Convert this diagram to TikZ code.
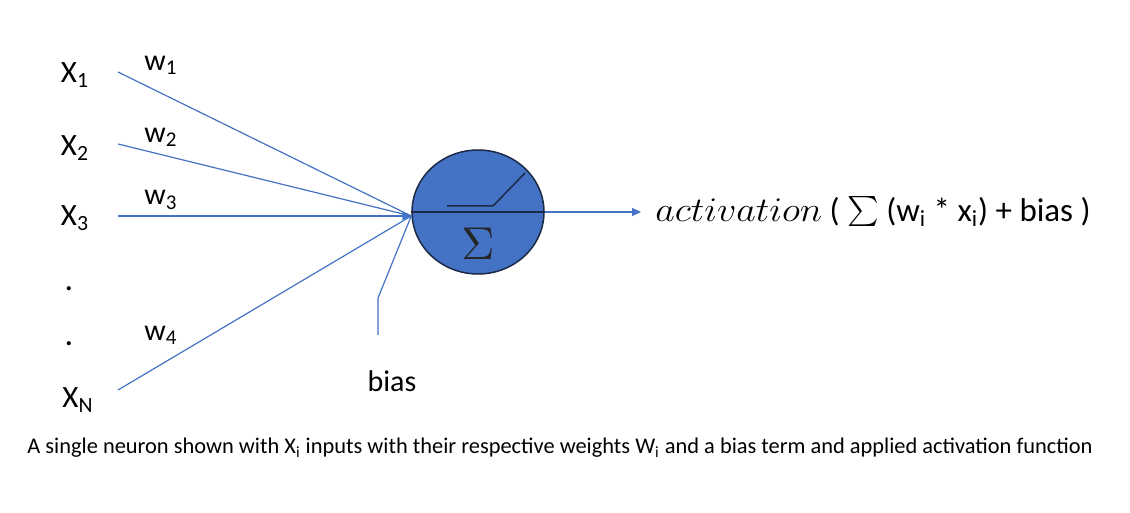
\documentclass[tikz,border=0pt]{standalone}
\usepackage{fontspec}
\setmainfont{Carlito}
\usetikzlibrary{arrows.meta,positioning,shapes.geometric}
\definecolor{lineblue}{HTML}{4472C4}
\definecolor{cellblue}{HTML}{4472C4}
\definecolor{rimdark}{HTML}{1C2A47}
\begin{document}
\begin{tikzpicture}[x=0.5pt,y=-0.5pt,
    inlabel/.style={font=\fontsize{15.5}{18}\selectfont,inner sep=0pt},
    wlabel/.style={font=\fontsize{15}{17}\selectfont,inner sep=0pt},
    feed/.style={draw=lineblue,line width=0.6pt},
    tipfeed/.style={feed,-{Triangle[length=4.5pt,width=4pt]}}]
    \useasboundingbox (0,0) rectangle (1130,513);
    %% Inputs
    \node[inlabel] (x1) at (75,75) {X\textsubscript{1}};
    \node[inlabel] (x2) at (75,148) {X\textsubscript{2}};
    \node[inlabel] (x3) at (75,218) {X\textsubscript{3}};
    \node[inlabel,font=\fontsize{17}{18}\selectfont] (dot1) at (69,289) {.};
    \node[inlabel,font=\fontsize{17}{18}\selectfont] (dot2) at (69,344) {.};
    \node[inlabel] (xn) at (78,400) {X\textsubscript{N}};
    %% Weights
    \node[wlabel] (w1) at (161,65) {w\textsubscript{1}};
    \node[wlabel] (w2) at (161,137) {w\textsubscript{2}};
    \node[wlabel] (w3) at (161,200) {w\textsubscript{3}};
    \node[wlabel] (w4) at (161,335) {w\textsubscript{4}};
    %% Neuron
    \node[ellipse,draw=rimdark,fill=cellblue,line width=0.75pt,minimum width=66pt,minimum height=62pt] (cell) at (478,212) {};
    \draw[rimdark,line width=0.75pt] (cell.west) -- (cell.east);
    \draw[rimdark,line width=0.75pt] (447,206) -- (493,206) -- (525,173);
    \node[text=black!85,inner sep=0pt] (sum) at (478,244) {\scalebox{2.3}{$\Sigma$}};
    \coordinate (hub) at ([yshift=-2pt]cell.west);
    %% Connections
    \coordinate (s1) at (118,72);
    \coordinate (s2) at (118,144);
    \coordinate (s3) at (118,216);
    \coordinate (sn) at (118,390);
    \draw[feed] (s1) -- (hub);
    \draw[feed] (s2) -- (hub);
    \draw[tipfeed] (s3) -- (hub);
    \draw[feed] (sn) -- (hub);
    %% Bias
    \node[inlabel,font=\fontsize{15}{17}\selectfont] (bias) at (392,381) {bias};
    \coordinate (b0) at (378,335);
    \coordinate (bk) at (378,298);
    \draw[feed] (b0) -- (bk) -- (hub);
    %% Output
    \node[anchor=west,inner sep=0pt,font=\fontsize{16.5}{19}\selectfont] (act) at (655,212)
        {\scalebox{1.1}[1]{$activation$} ( \raisebox{-0.2ex}{\scalebox{1.5}{$\textstyle\sum$}} (w\textsubscript{i} * x\textsubscript{i}) + bias )};
    \draw[tipfeed] (cell.east) -- ([xshift=-7pt]act.west);
    %% Caption
    \node[inner sep=0pt,font=\fontsize{11.2}{13}\selectfont] (caption) at (560,448)
        {A single neuron shown with X\textsubscript{i} inputs with their respective weights W\textsubscript{i} and a bias term and applied activation function};
\end{tikzpicture}
\end{document}
